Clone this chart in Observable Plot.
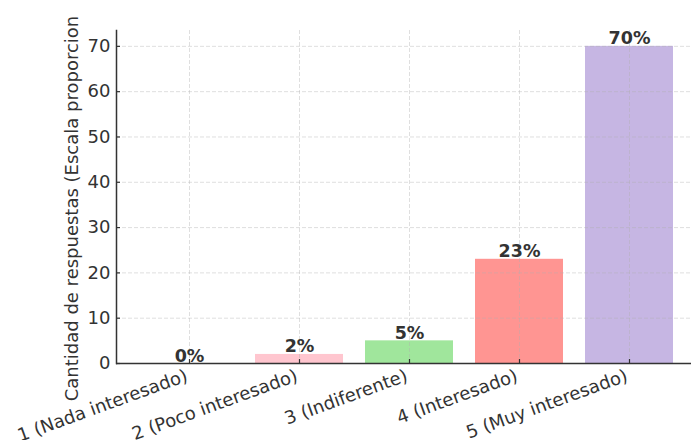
<!DOCTYPE html>
<html>
<head>
<meta charset="utf-8">
<script src="https://cdn.jsdelivr.net/npm/d3@7"></script>
<script src="https://cdn.jsdelivr.net/npm/@observablehq/plot@0.6"></script>
<style>
  html, body { margin: 0; padding: 0; background: white; }
  #chart svg { display: block; overflow: visible; }
</style>
</head>
<body>
<div id="chart"></div>
<script>
const categories = ["1 (Nada interesado)", "2 (Poco interesado)", "3 (Indiferente)", "4 (Interesado)", "5 (Muy interesado)"];
const values = [0, 2, 5, 23, 70];
const valueLabels = ["0%", "2%", "5%", "23%", "70%"];
const barColors = ["#a9c9ee", "#ffc6cf", "#a0e69c", "#ff9592", "#c6b6e3"];
const yTicks = [0, 10, 20, 30, 40, 50, 60, 70];
const yLabel = "Cantidad de respuestas (Escala proporcional)";

const data = categories.map((c, i) => ({category: c, value: values[i], label: valueLabels[i], color: barColors[i]}));
const font = "DejaVu Sans";
const ink = "#333";

const chart = Plot.plot({
  width: 691,
  height: 440,
  marginLeft: 116,
  marginRight: -11,
  marginTop: 30,
  marginBottom: 77,
  style: {fontFamily: font, fontSize: "18px", color: ink, background: "white", overflow: "visible"},
  x: {type: "band", domain: categories, paddingInner: 0.2, paddingOuter: 0.24, align: 0.5},
  y: {domain: [0, 73.5]},
  marks: [
    Plot.barY(data, {x: "category", y: "value", fill: "color"}),
    Plot.gridY(yTicks, {stroke: "#b0b0b0", strokeOpacity: 0.5, strokeDasharray: "4,2", strokeWidth: 0.8}),
    Plot.gridX(categories, {stroke: "#b0b0b0", strokeOpacity: 0.5, strokeDasharray: "4,2", strokeWidth: 0.8}),
    Plot.axisY(yTicks, {tickSize: -4, tickPadding: 10, stroke: ink, fill: ink, fontSize: "18px", label: null, strokeWidth: 1.2}),
    Plot.axisX(categories, {tickSize: -4, stroke: ink, text: null, label: null, strokeWidth: 1.2}),
    Plot.text(categories, {x: d => d, frameAnchor: "bottom", dy: 5, dx: -5, rotate: -20, textAnchor: "end", lineAnchor: "top", fill: ink, fontSize: "18px"}),
    Plot.ruleY([0], {stroke: ink, strokeWidth: 1.5}),
    Plot.frame({anchor: "left", stroke: ink, strokeWidth: 1.5}),
    Plot.text(data, {x: "category", y: "value", text: "label", lineAnchor: "bottom", dy: -2, fontWeight: "bold", fill: ink, fontSize: "17.5px"}),
    Plot.text([yLabel], {frameAnchor: "left", dx: -44, rotate: -90, textAnchor: "middle", lineAnchor: "middle", fill: ink, fontSize: "18px"})
  ]
});
// the reference crops the rotated axis title at its top edge: wrap it in an untransformed clipped group
const svg = d3.select(chart);
svg.append("defs").append("clipPath").attr("id", "ylab-clip").attr("clipPathUnits", "userSpaceOnUse")
  .append("rect").attr("x", 0).attr("y", 16).attr("width", 116).attr("height", 424);
svg.selectAll("g[aria-label='text']").filter(function() {
  return this.textContent === yLabel;
}).each(function() {
  const wrap = document.createElementNS("http://www.w3.org/2000/svg", "g");
  wrap.setAttribute("clip-path", "url(#ylab-clip)");
  this.parentNode.insertBefore(wrap, this);
  wrap.appendChild(this);
});
document.getElementById("chart").appendChild(chart);
</script>
</body>
</html>
